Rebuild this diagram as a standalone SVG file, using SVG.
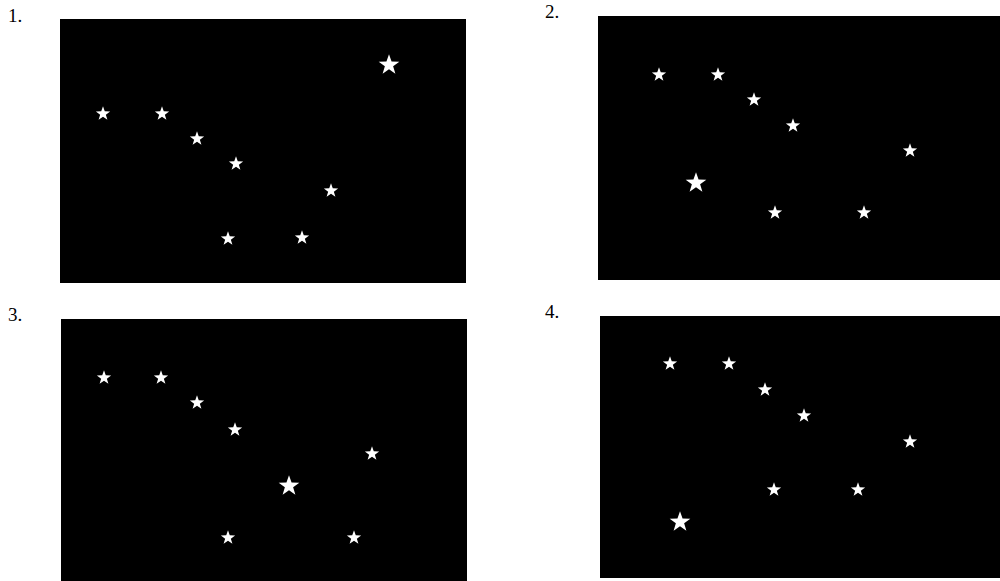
<svg xmlns="http://www.w3.org/2000/svg" xmlns:xlink="http://www.w3.org/1999/xlink" width="1000" height="581" viewBox="0 0 1000 581">
<style>
.lbl{font-family:"Liberation Serif",serif;font-size:19px;fill:#000}
.sky{fill:#000}
.st{fill:#fff}
</style>
<defs>
<path id="s" class="st" d="M0,-7.5 L1.76,-2.43 L7.13,-2.32 L2.85,0.93 L4.41,6.07 L0,3 L-4.41,6.07 L-2.85,0.93 L-7.13,-2.32 L-1.76,-2.43 Z" transform="translate(0,0.7)"/>
<path id="b" class="st" d="M0,-7.5 L1.76,-2.43 L7.13,-2.32 L2.85,0.93 L4.41,6.07 L0,3 L-4.41,6.07 L-2.85,0.93 L-7.13,-2.32 L-1.76,-2.43 Z" transform="translate(0,1) scale(1.45)"/>
</defs>
<rect width="1000" height="581" fill="#fff"/>
<g id="panel1">
<text class="lbl" x="8" y="22">1.</text>
<rect class="sky" x="60" y="19" width="406" height="264"/>
<use href="#s" x="103" y="113"/>
<use href="#s" x="162" y="113"/>
<use href="#s" x="197" y="138"/>
<use href="#s" x="236" y="163"/>
<use href="#s" x="331" y="190"/>
<use href="#s" x="228" y="238"/>
<use href="#s" x="302" y="237"/>
<use href="#b" x="389" y="64"/>
</g>
<g id="panel2">
<text class="lbl" x="545" y="18">2.</text>
<rect class="sky" x="598" y="16" width="402" height="264"/>
<use href="#s" x="659" y="74"/>
<use href="#s" x="718" y="74"/>
<use href="#s" x="754" y="99"/>
<use href="#s" x="793" y="125"/>
<use href="#s" x="910" y="150"/>
<use href="#s" x="775" y="212"/>
<use href="#s" x="864" y="212"/>
<use href="#b" x="696" y="182"/>
</g>
<g id="panel3">
<text class="lbl" x="8" y="321">3.</text>
<rect class="sky" x="61" y="319" width="406" height="262"/>
<use href="#s" x="104" y="377"/>
<use href="#s" x="161" y="377"/>
<use href="#s" x="197" y="402"/>
<use href="#s" x="235" y="429"/>
<use href="#s" x="372" y="453"/>
<use href="#s" x="228" y="537"/>
<use href="#s" x="354" y="537"/>
<use href="#b" x="289" y="485"/>
</g>
<g id="panel4">
<text class="lbl" x="545" y="318">4.</text>
<rect class="sky" x="600" y="316" width="400" height="262"/>
<use href="#s" x="670" y="363"/>
<use href="#s" x="729" y="363"/>
<use href="#s" x="765" y="389"/>
<use href="#s" x="804" y="415"/>
<use href="#s" x="910" y="441"/>
<use href="#s" x="774" y="489"/>
<use href="#s" x="858" y="489"/>
<use href="#b" x="680" y="521"/>
</g>
</svg>
